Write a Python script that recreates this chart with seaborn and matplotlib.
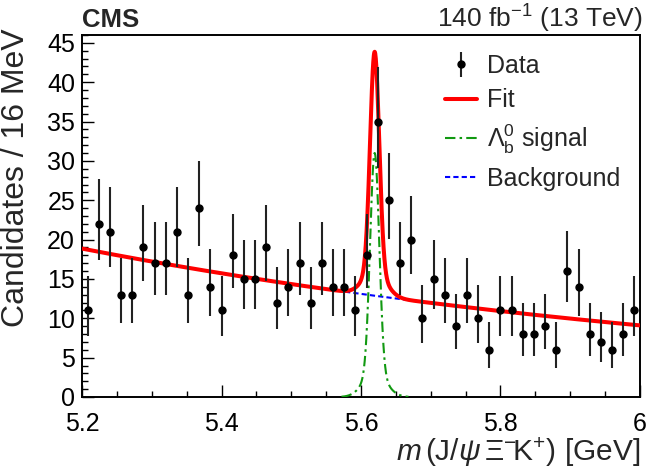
import numpy as np
import matplotlib
matplotlib.use("Agg")
import matplotlib.pyplot as plt
from matplotlib.ticker import MultipleLocator
from matplotlib.lines import Line2D
import seaborn as sns
import pandas as pd

# --- data: 16 MeV bins from 5.2 to 6.0 GeV
m_low, m_high, bin_width = 5.2, 6.0, 0.016
counts = [11, 22, 21, 13, 13, 19, 17, 17, 21, 13,
          24, 14, 11, 18, 15, 15, 19, 12, 14, 17,
          12, 17, 14, 14, 11, 18, 35, 25, 17, 20,
          10, 15, 13, 9, 13, 10, 6, 11, 11, 8,
          8, 9, 6, 16, 14, 8, 7, 6, 8, 11]

# --- fit model (exponential background + double gaussian signal)
bkg_norm = 18.86      # background at 5.2 GeV, per bin
bkg_slope = 0.911     # 1/GeV
sig_mean = 5.6196
sig_peak = 31.0
sig_sigma1 = 0.0065
sig_sigma2 = 0.016
sig_frac1 = 0.9

sns.set_theme(style="ticks")
plt.rcParams['font.family'] = ['Liberation Sans', 'DejaVu Sans']
plt.rcParams['mathtext.fontset'] = 'custom'
plt.rcParams['mathtext.rm'] = 'Liberation Sans'
plt.rcParams['mathtext.it'] = 'Liberation Sans:italic'
plt.rcParams['mathtext.bf'] = 'Liberation Sans:bold'

centers = m_low + bin_width * (np.arange(len(counts)) + 0.5)
n = np.array(counts, dtype=float)

# Garwood (68%) poisson intervals, Wilson-Hilferty approximation
lower = n * (1 - 1 / (9 * n) - 1 / (3 * np.sqrt(n))) ** 3
upper = (n + 1) * (1 - 1 / (9 * (n + 1)) + 1 / (3 * np.sqrt(n + 1))) ** 3
err = [n - lower, upper - n]


def background(m):
    return bkg_norm * np.exp(-bkg_slope * (m - m_low))


def signal(m):
    d = m - sig_mean
    return sig_peak * (sig_frac1 * np.exp(-0.5 * (d / sig_sigma1) ** 2)
                       + (1 - sig_frac1) * np.exp(-0.5 * (d / sig_sigma2) ** 2))


mm = np.linspace(m_low, m_high, 2001)
curves = pd.DataFrame({'m': mm, 'bkg': background(mm), 'fit': background(mm) + signal(mm)})
ms = np.linspace(5.572, 5.668, 600)
sig_df = pd.DataFrame({'m': ms, 'sig': signal(ms)})

fig = plt.figure(figsize=(6.46, 4.75), dpi=100)
ax = fig.add_axes([82 / 646, 1 - 397 / 475, (640 - 82) / 646, (397 - 35) / 475])

sns.lineplot(data=curves, x='m', y='bkg', ax=ax, color='#0000ff', lw=1.5, zorder=2)
ax.lines[-1].set_dashes([2.5, 1.5])
sns.lineplot(data=sig_df, x='m', y='sig', ax=ax, color='#119911', lw=1.5, zorder=3)
ax.lines[-1].set_dashes([5, 2, 1.2, 2])
sns.lineplot(data=curves, x='m', y='fit', ax=ax, color='#ff0000', lw=2.9, zorder=4)

eb = ax.errorbar(centers, n, yerr=err, fmt='o', color='black', ecolor='#222222',
                 ms=5, elinewidth=1.5, capsize=0, zorder=5)

ax.set_xlim(m_low, m_high)
ax.set_ylim(0, 46)
ax.xaxis.set_minor_locator(MultipleLocator(0.05))
ax.yaxis.set_major_locator(MultipleLocator(5))
ax.yaxis.set_minor_locator(MultipleLocator(1))
ax.set_xticks([5.2, 5.4, 5.6, 5.8, 6.0], ['5.2', '5.4', '5.6', '5.8', '6'])
ax.tick_params(which='both', direction='in', width=1.0, colors='black', labelsize=18)
ax.tick_params(which='major', length=8.5)
ax.tick_params(which='minor', length=4.3)
ax.tick_params(axis='x', which='major', pad=11)
ax.tick_params(axis='y', which='major', pad=5)
for s in ax.spines.values():
    s.set_linewidth(1.4)
    s.set_color('black')

ax.set_xlabel(r'$m\,$(J/$\psi\,\Xi^{-}\!$K$^{+}$) [GeV]', fontsize=21.5, loc='right', labelpad=-1)
ax.set_ylabel('')
fig.text(0.5 / 646, 1 - 28 / 475, 'Candidates / 16 MeV', rotation=90, ha='left', va='top', fontsize=23)

ax.text(0.0, 1.022, 'CMS', transform=ax.transAxes, fontsize=18.5, fontweight='bold',
        ha='left', va='baseline')
ax.text(1.004, 1.02, r'140 fb$^{-1}$ (13 TeV)', transform=ax.transAxes, fontsize=19,
        ha='right', va='baseline')

handles = [eb,
           Line2D([], [], color='#ff0000', lw=2.9),
           Line2D([], [], color='#119911', lw=1.5, dashes=[5, 2, 1.2, 2]),
           Line2D([], [], color='#0000ff', lw=1.5, dashes=[2.5, 1.5])]
labels = ['Data', 'Fit', r'$\Lambda_{\rm b}^{0}$ signal', 'Background']
ax.legend(handles, labels, loc='upper left', bbox_to_anchor=(0.6505, 0.948), frameon=False,
          fontsize=18, handlelength=1.3, handletextpad=0.4, labelspacing=0.42,
          borderpad=0, borderaxespad=0)

fig.savefig('out.png', dpi=100)
